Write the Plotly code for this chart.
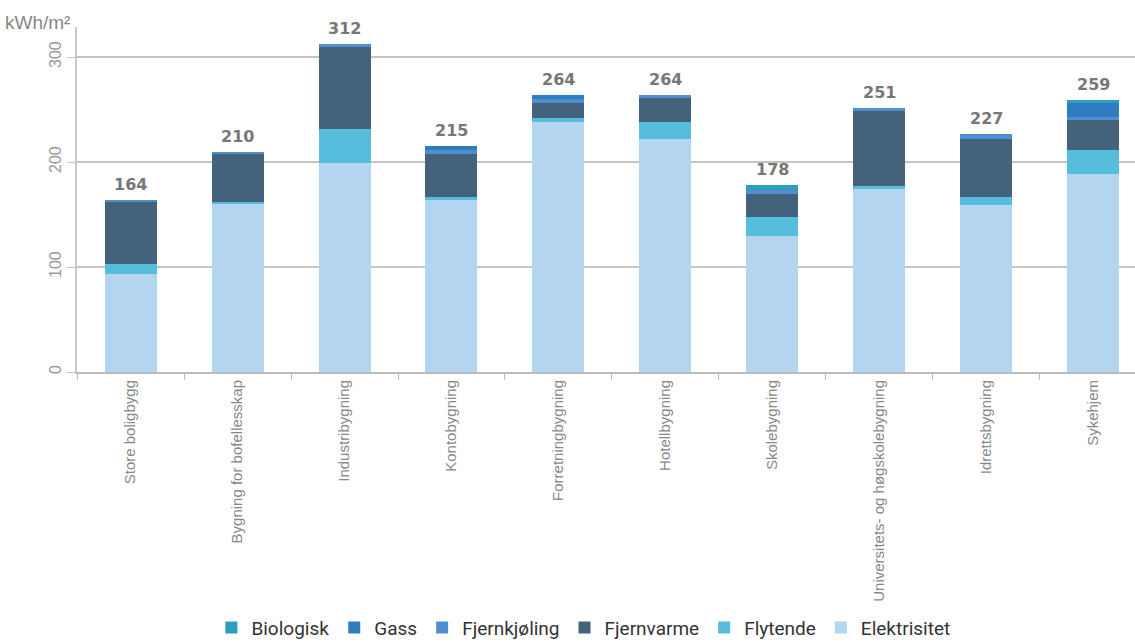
import plotly.graph_objects as go

categories = ["Store boligbygg", "Bygning for bofellesskap", "Industribygning", "Kontobygning",
              "Forretningbygning", "Hotellbygning", "Skolebygning",
              "Universitets- og høgskolebygning", "Idrettsbygning", "Sykehjem"]

elektrisitet = [93, 160, 199, 164, 238, 222, 130, 174, 159, 189]
flytende     = [10, 2, 32, 3, 4, 16, 18, 3, 8, 22]
fjernvarme   = [59, 46, 79, 41, 14, 23, 22, 72, 55, 29]
fjernkjoling = [2, 2, 2, 3, 4, 3, 3, 2, 5, 3]
gass         = [0, 0, 0, 4, 4, 0, 0, 0, 0, 13]
biologisk    = [0, 0, 0, 0, 0, 0, 5, 0, 0, 3]
totals       = [164, 210, 312, 215, 264, 264, 178, 251, 227, 259]

y_ticks = [0, 100, 200, 300]

series = [
    ("Elektrisitet", elektrisitet, "#b3d5f0"),
    ("Flytende", flytende, "#56bedc"),
    ("Fjernvarme", fjernvarme, "#44627c"),
    ("Fjernkjøling", fjernkjoling, "#4f8fd0"),
    ("Gass", gass, "#2e7dc0"),
    ("Biologisk", biologisk, "#2b9fc0"),
]

fig = go.Figure()
for name, vals, color in series:
    fig.add_trace(go.Bar(x=categories, y=vals, name=name, marker=dict(color=color, line=dict(width=0)),
                         hoverinfo="x+y+name"))

for c, t in zip(categories, totals):
    fig.add_annotation(x=c, y=t, text=str(t), showarrow=False, yanchor="bottom", yshift=4,
                       font=dict(family="DejaVu Sans", size=16, color="#777777", weight="bold"))

fig.add_annotation(xref="paper", yref="paper", x=-0.005, y=1.0, text="kWh/m²", showarrow=False,
                   xanchor="right", yanchor="bottom", yshift=-8,
                   font=dict(family="Liberation Sans", size=19, color="#888888"))

fig.update_layout(
    width=1135, height=643,
    margin=dict(l=77, r=0, t=27, b=271),
    paper_bgcolor="white", plot_bgcolor="white",
    barmode="stack", bargap=0.514,
    showlegend=True,
    legend=dict(orientation="h", traceorder="reversed", xref="container", yref="container",
                x=0.514, y=0.024, xanchor="center", yanchor="middle",
                font=dict(family="Roboto", size=19, color="#333333"),
                itemwidth=30, tracegroupgap=0),
    xaxis=dict(range=[-0.5, 9.388], tickangle=-90, tickson="boundaries", ticks="outside",
               ticklen=6, tickcolor="#bbbbbb", showline=True, linecolor="#bbbbbb", linewidth=2,
               showgrid=False, automargin=False,
               tickfont=dict(family="Liberation Sans", size=15, color="#888888")),
    yaxis=dict(range=[0, 328.6], tickvals=y_ticks, tickangle=-90, ticks="outside", ticklen=8,
               tickcolor="#c4c4c4", showline=True, linecolor="#c8c8c8", linewidth=2,
               showgrid=True, gridcolor="#c4c4c4", gridwidth=2, zeroline=False, automargin=False,
               tickfont=dict(family="Liberation Sans", size=16, color="#999999")),
)

fig.write_html("out.html", config={"displayModeBar": False},
               post_script="document.body.style.margin='0';")
